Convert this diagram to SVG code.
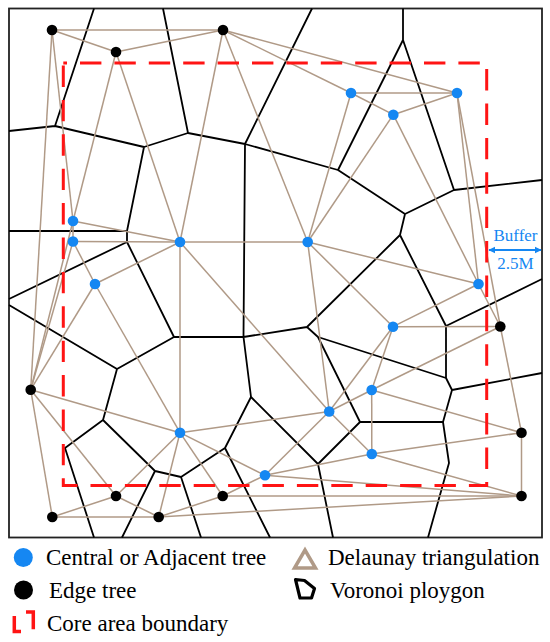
<svg xmlns="http://www.w3.org/2000/svg" width="550" height="642" viewBox="0 0 550 642">
<style>
.dl{stroke:#b09a87;stroke-width:1.5;fill:none}
.vo{stroke:#000;stroke-width:1.8;fill:none;stroke-linejoin:round}
.cb{fill:#1587f2}
.ce{fill:#000}
.tx{font-family:"Liberation Serif","Times New Roman",serif;font-size:23px;fill:#000}
.bf{font-family:"Liberation Serif","Times New Roman",serif;font-size:17px;fill:#1587f2}
</style>
<defs>
<marker id="ah" viewBox="0 0 10 10" refX="9" refY="5" markerWidth="7" markerHeight="8" markerUnits="userSpaceOnUse" orient="auto-start-reverse">
<path d="M0,0 L10,5 L0,10 Z" fill="#1587f2"/>
</marker>
</defs>
<rect x="0" y="0" width="550" height="642" fill="#fff"/>
<rect x="9" y="8.5" width="533" height="529" fill="none" stroke="#222" stroke-width="1.8"/>

<g id="voronoi" class="vo">
<path d="M94,8.5 L55,126 M9,131 L55,126 M55,126 L144,147 L188,133 L163,8.5 M188,133 L245,144 L338,170 M245,144 L312,8.5 M245,144 L243.5,337 M144,147 L127,231 L9,231 M127,231 L127,242 L9,299 M127,242 L174,337 M9,305 L117,369 L174,337 L243.5,337 L307,327 M243.5,337 L251,397 L225,448 M251,397 L318,464 M117,369 L103,420 L65,448 L94,537.5 M103,420 L155,471 L181,477 L225,448 M155,471 L122,537.5 M181,477 L201,537.5 M225,448 L270,537.5 M307,327 L400,235 M307,327 L318,337 L446,378 M318,337 L360,422 L443,422 M360,422 L318,464 L333,537.5 M443,422 L452,390 L446,378 M452,390 L542,373 M446,378 L446,326 L542,279 M446,326 L400,235 M443,422 L449,463 L428,537.5 M338,170 L405,214 M338,170 L403,40 L403,8.5 M403,40 L454,190 L542,180 M454,190 L405,214 L400,235"/>
</g>

<g id="delaunay" class="dl">
<line x1="52" y1="30" x2="223" y2="30"/>
<line x1="52" y1="30" x2="116" y2="52"/>
<line x1="116" y1="52" x2="223" y2="30"/>
<line x1="52" y1="30" x2="30.7" y2="389.7"/>
<line x1="52" y1="30" x2="73" y2="221"/>
<line x1="116" y1="52" x2="73" y2="221"/>
<line x1="116" y1="52" x2="180" y2="242"/>
<line x1="223" y1="30" x2="180" y2="242"/>
<line x1="223" y1="30" x2="351" y2="93"/>
<line x1="223" y1="30" x2="457" y2="93"/>
<line x1="223" y1="30" x2="307.7" y2="242"/>
<line x1="351" y1="93" x2="457" y2="93"/>
<line x1="351" y1="93" x2="393.3" y2="114.7"/>
<line x1="393.3" y1="114.7" x2="457" y2="93"/>
<line x1="351" y1="93" x2="307.7" y2="242"/>
<line x1="393.3" y1="114.7" x2="307.7" y2="242"/>
<line x1="393.3" y1="114.7" x2="478.5" y2="284"/>
<line x1="457" y1="93" x2="478.5" y2="284"/>
<line x1="457" y1="93" x2="500.3" y2="326.5"/>
<line x1="307.7" y1="242" x2="478.5" y2="284"/>
<line x1="307.7" y1="242" x2="393" y2="326.7"/>
<line x1="307.7" y1="242" x2="329.2" y2="411.5"/>
<line x1="307.7" y1="242" x2="180" y2="242"/>
<line x1="180" y1="242" x2="73" y2="241.5"/>
<line x1="180" y1="242" x2="73" y2="221"/>
<line x1="73" y1="221" x2="73" y2="241.5"/>
<line x1="73" y1="221" x2="30.7" y2="389.7"/>
<line x1="73" y1="241.5" x2="30.7" y2="389.7"/>
<line x1="73" y1="241.5" x2="95" y2="284"/>
<line x1="95" y1="284" x2="180" y2="242"/>
<line x1="95" y1="284" x2="30.7" y2="389.7"/>
<line x1="95" y1="284" x2="180" y2="432.7"/>
<line x1="180" y1="242" x2="180" y2="432.7"/>
<line x1="180" y1="242" x2="329.2" y2="411.5"/>
<line x1="30.7" y1="389.7" x2="180" y2="432.7"/>
<line x1="30.7" y1="389.7" x2="116" y2="496"/>
<line x1="30.7" y1="389.7" x2="52.3" y2="517"/>
<line x1="180" y1="432.7" x2="116" y2="496"/>
<line x1="180" y1="432.7" x2="158.7" y2="517"/>
<line x1="180" y1="432.7" x2="222.7" y2="496"/>
<line x1="180" y1="432.7" x2="265" y2="475.3"/>
<line x1="180" y1="432.7" x2="329.2" y2="411.5"/>
<line x1="116" y1="496" x2="52.3" y2="517"/>
<line x1="116" y1="496" x2="158.7" y2="517"/>
<line x1="52.3" y1="517" x2="158.7" y2="517"/>
<line x1="158.7" y1="517" x2="222.7" y2="496"/>
<line x1="158.7" y1="517" x2="521.5" y2="496"/>
<line x1="222.7" y1="496" x2="265" y2="475.3"/>
<line x1="222.7" y1="496" x2="521.5" y2="496"/>
<line x1="265" y1="475.3" x2="521.5" y2="496"/>
<line x1="265" y1="475.3" x2="329.2" y2="411.5"/>
<line x1="265" y1="475.3" x2="371.8" y2="454"/>
<line x1="329.2" y1="411.5" x2="371.8" y2="454"/>
<line x1="329.2" y1="411.5" x2="371.7" y2="390"/>
<line x1="329.2" y1="411.5" x2="393" y2="326.7"/>
<line x1="371.7" y1="390" x2="393" y2="326.7"/>
<line x1="371.7" y1="390" x2="371.8" y2="454"/>
<line x1="371.7" y1="390" x2="500.3" y2="326.5"/>
<line x1="371.7" y1="390" x2="521.5" y2="432.7"/>
<line x1="393" y1="326.7" x2="500.3" y2="326.5"/>
<line x1="393" y1="326.7" x2="478.5" y2="284"/>
<line x1="478.5" y1="284" x2="500.3" y2="326.5"/>
<line x1="500.3" y1="326.5" x2="521.5" y2="432.7"/>
<line x1="521.5" y1="432.7" x2="521.5" y2="496"/>
<line x1="371.8" y1="454" x2="521.5" y2="432.7"/>
<line x1="371.8" y1="454" x2="521.5" y2="496"/>
</g>

<g id="core-boundary">
<path d="M63.3,63 H486.7 V485.5 H63.3 Z" fill="none" stroke="#ff1414" stroke-width="3" stroke-dasharray="21.4 13" stroke-dashoffset="17.7"/>
</g>

<g id="trees">
<g id="tA"><circle class="ce" cx="52" cy="30" r="5.3"/></g>
<g id="tB"><circle class="ce" cx="116" cy="52" r="5.3"/></g>
<g id="tC"><circle class="ce" cx="223" cy="30" r="5.3"/></g>
<g id="tD"><circle class="cb" cx="73" cy="221" r="5.3"/></g>
<g id="tE"><circle class="cb" cx="73" cy="241.5" r="5.3"/></g>
<g id="tF"><circle class="cb" cx="180" cy="242" r="5.3"/></g>
<g id="tG"><circle class="cb" cx="351" cy="93" r="5.3"/></g>
<g id="tH"><circle class="cb" cx="393.3" cy="114.7" r="5.3"/></g>
<g id="tI"><circle class="cb" cx="457" cy="93" r="5.3"/></g>
<g id="tJ"><circle class="cb" cx="307.7" cy="242" r="5.3"/></g>
<g id="tK"><circle class="cb" cx="95" cy="284" r="5.3"/></g>
<g id="tL"><circle class="ce" cx="30.7" cy="389.7" r="5.3"/></g>
<g id="tM"><circle class="cb" cx="180" cy="432.7" r="5.3"/></g>
<g id="tN"><circle class="cb" cx="265" cy="475.3" r="5.3"/></g>
<g id="tO"><circle class="ce" cx="116" cy="496" r="5.3"/></g>
<g id="tP"><circle class="ce" cx="222.7" cy="496" r="5.3"/></g>
<g id="tQ"><circle class="ce" cx="52.3" cy="517" r="5.3"/></g>
<g id="tR"><circle class="ce" cx="158.7" cy="517" r="5.3"/></g>
<g id="tS"><circle class="cb" cx="478.5" cy="284" r="5.3"/></g>
<g id="tT"><circle class="ce" cx="500.3" cy="326.5" r="5.3"/></g>
<g id="tU"><circle class="cb" cx="393" cy="326.7" r="5.3"/></g>
<g id="tV"><circle class="cb" cx="371.7" cy="390" r="5.3"/></g>
<g id="tW"><circle class="cb" cx="329.2" cy="411.5" r="5.3"/></g>
<g id="tX"><circle class="ce" cx="521.5" cy="432.7" r="5.3"/></g>
<g id="tY"><circle class="cb" cx="371.8" cy="454" r="5.3"/></g>
<g id="tZ"><circle class="ce" cx="521.5" cy="496" r="5.3"/></g>
</g>

<g id="buffer">
<text class="bf" x="515.5" y="241" text-anchor="middle">Buffer</text>
<line x1="489" y1="250" x2="541" y2="250" stroke="#1587f2" stroke-width="2" marker-start="url(#ah)" marker-end="url(#ah)"/>
<text class="bf" x="515.5" y="268.5" text-anchor="middle">2.5M</text>
</g>

<g id="legend">
<circle class="cb" cx="23.3" cy="557.5" r="9.5"/>
<text class="tx" x="46" y="565">Central or Adjacent tree</text>
<path d="M294.5,568 L315.5,568 L305,550 Z" fill="none" stroke="#b09a87" stroke-width="3.5"/>
<text class="tx" x="328" y="565">Delaunay triangulation</text>
<circle class="ce" cx="23.5" cy="590" r="9.5"/>
<text class="tx" x="49" y="598">Edge tree</text>
<path d="M295.5,579.5 L304.5,580.5 L314.5,588.5 L311.5,598 L300,598 Z" fill="none" stroke="#000" stroke-width="3.2" stroke-linejoin="round"/>
<text class="tx" x="330" y="598">Voronoi ploygon</text>
<path d="M14.3,616 V631.5 H21 M26,612 H33.3 V629.3" fill="none" stroke="#ff1414" stroke-width="3.5"/>
<text class="tx" x="47" y="631">Core area boundary</text>
</g>
</svg>
